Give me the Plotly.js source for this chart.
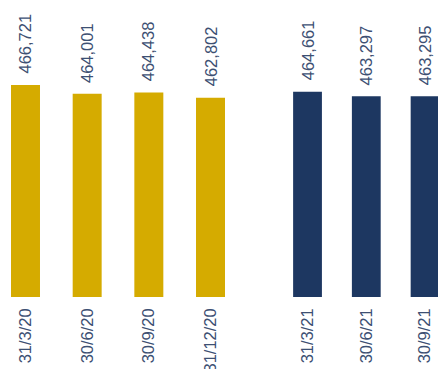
<!DOCTYPE html>
<html>
<head>
<meta charset="utf-8">
<script src="https://cdn.plot.ly/plotly-3.0.1.min.js"></script>
<style>
  html, body { margin: 0; padding: 0; background: #ffffff; }
  #chart { width: 438px; height: 369px; }
</style>
</head>
<body>
<div id="chart"></div>
<script>
// ---- data ----
var categories2020 = ['31/3/20', '30/6/20', '30/9/20', '31/12/20'];
var values2020 = [466721, 464001, 464438, 462802];
var categories2021 = ['31/3/21', '30/6/21', '30/9/21'];
var values2021 = [464661, 463297, 463295];

// ---- styles ----
var gold = '#D5AB00';
var navy = '#1D3761';
var textColor = '#3D5073';
var fontFamily = 'Arial, "Liberation Sans", sans-serif';

function fmt(v) {
  return v.toString().replace(/\B(?=(\d{3})+(?!\d))/g, ',');
}

var traces = [
  {
    type: 'bar',
    x: categories2020,
    y: values2020,
    xaxis: 'x',
    yaxis: 'y',
    width: 0.47,
    marker: { color: gold },
    hoverinfo: 'x+y'
  },
  {
    type: 'bar',
    x: categories2021,
    y: values2021,
    xaxis: 'x2',
    yaxis: 'y',
    width: 0.49,
    marker: { color: navy },
    hoverinfo: 'x+y'
  }
];

var annotations = [];
function addLabels(cats, vals, xref) {
  for (var i = 0; i < cats.length; i++) {
    annotations.push({
      x: cats[i],
      y: vals[i],
      xref: xref,
      yref: 'y',
      text: fmt(vals[i]),
      textangle: -90,
      showarrow: false,
      xanchor: 'center',
      yanchor: 'bottom',
      yshift: 9,
      font: { family: fontFamily, size: 16.5, color: textColor }
    });
  }
}
addLabels(categories2020, values2020, 'x');
addLabels(categories2021, values2021, 'x2');

var tickFont = { family: fontFamily, size: 16.5, color: textColor };

var layout = {
  width: 438,
  height: 369,
  margin: { l: 0, r: 0, t: 0, b: 72, pad: 0 },
  paper_bgcolor: '#ffffff',
  plot_bgcolor: '#ffffff',
  showlegend: false,
  xaxis: {
    type: 'category',
    domain: [0, 0.551],
    range: [-0.4135, 3.5],
    tickangle: -90,
    tickfont: tickFont,
    ticklabelstandoff: 7,
    showgrid: false,
    zeroline: false,
    showline: false,
    ticks: '',
    fixedrange: true
  },
  xaxis2: {
    type: 'category',
    domain: [0.635, 1],
    range: [-0.5, 2.22],
    anchor: 'y',
    tickangle: -90,
    tickfont: tickFont,
    ticklabelstandoff: 7,
    showgrid: false,
    zeroline: false,
    showline: false,
    ticks: '',
    fixedrange: true
  },
  yaxis: {
    range: [401300, 492967],
    visible: false,
    showgrid: false,
    zeroline: false,
    fixedrange: true
  },
  annotations: annotations
};

Plotly.newPlot('chart', traces, layout, { displayModeBar: false, staticPlot: true });
</script>
</body>
</html>
